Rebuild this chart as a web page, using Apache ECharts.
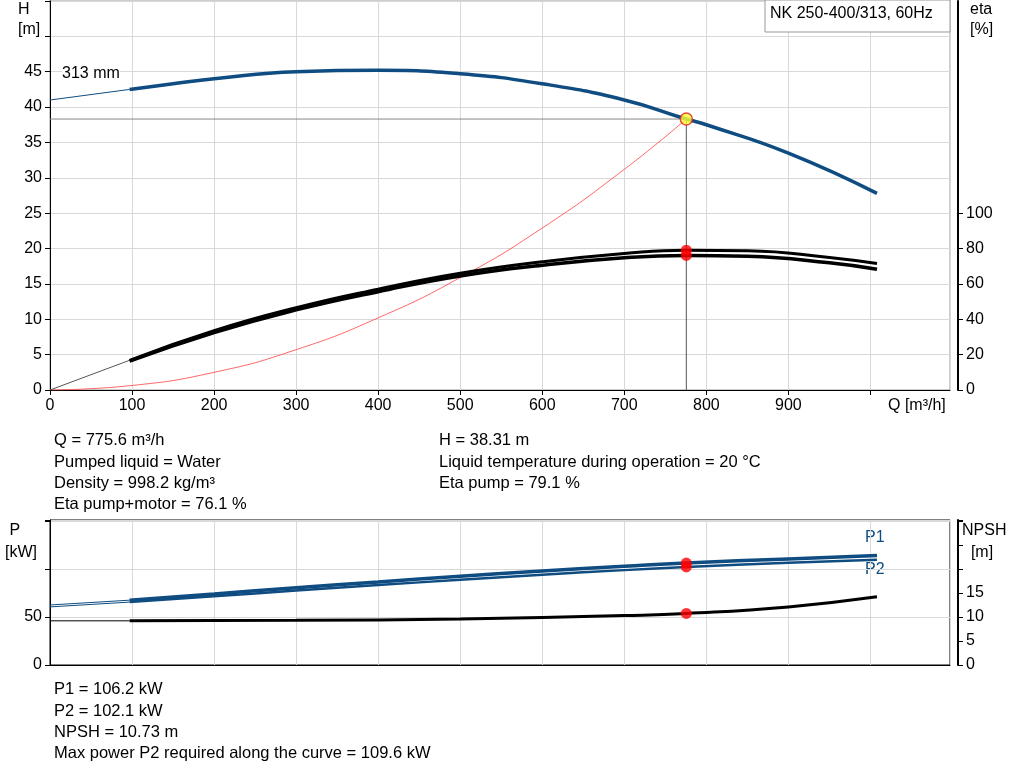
<!DOCTYPE html>
<html><head><meta charset="utf-8">
<script src="https://cdn.jsdelivr.net/npm/echarts@6/dist/echarts.min.js"></script>
<style>html,body{margin:0;padding:0;background:#fff}#c{width:1024px;height:781px}</style>
</head><body><div id="c"></div>
<script>
// Data
const qOp = 775.6, hOp = 38.31;
const hThin = [[0,41],[97,42.5]];
const hCurve = [[97,42.5],[150,43.3],[200,44],[300,45],[400,45.2],[500,44.7],[600,43.3],[700,41],[775.6,38.31],[800,37.5],[900,33.5],[1008,27.8]];
const etaThin = [[0,0],[97,16.8]];
const etaPump = [[97,16.8],[200,33.5],[300,46.5],[400,57],[500,66],[600,72.5],[700,77.2],[775.6,79.1],[850,78.8],[950,75],[1008,71.5]];
const etaTotal = [[97,16.3],[200,32.5],[300,45.3],[400,55.6],[500,64.5],[600,70.6],[700,74.8],[775.6,76.1],[850,75.6],[950,72],[1008,68.3]];
const sysCurve = [[0,0],[100,0.64],[200,2.5],[300,5.7],[400,10.2],[500,15.9],[600,22.9],[700,31.2],[775.6,38.31]];
const p1Thin = [[0,62.5],[97,67.5]];
const p1 = [[97,67.5],[200,74],[300,80.5],[400,86.5],[500,92.5],[600,98],[700,102.8],[775.6,106.2],[900,110.5],[1008,114]];
const p2Thin = [[0,60.5],[97,65.5]];
const p2 = [[97,65.5],[200,71.5],[300,77.5],[400,83.2],[500,88.8],[600,94],[700,98.8],[775.6,102.1],[900,106.6],[1008,109.6]];
const npshThin = [[0,9.2],[97,9.2]];
const npsh = [[97,9.2],[300,9.3],[500,9.6],[700,10.3],[775.6,10.73],[900,12.1],[1008,14.2]];
const pOp = [106.2, 102.1], npshOp = 10.73, etaOp = [79.1, 76.1];
const etaTicks = [0,20,40,60,80,100];

const F = 'Arial, "Liberation Sans", sans-serif';
const FS = 16;
const gridLine = {show:true, lineStyle:{color:'#d9d9d9'}};
function line(data, x, y, color, w, extra){return Object.assign({type:'line',data,xAxisIndex:x,yAxisIndex:y,symbol:'none',smooth:true,lineStyle:{color,width:w},silent:true,z:3},extra||{});}
const blue='#0f4c81';
const chart = echarts.init(document.getElementById('c'));
chart.setOption({
  animation:false,
  textStyle:{fontFamily:F},
  grid:[{left:50,right:74,top:1,bottom:391},{left:50,right:74,top:520,bottom:116}],
  xAxis:[
    {gridIndex:0,type:'value',min:0,max:1097,interval:100,axisLine:{onZero:false,lineStyle:{color:'#000'}},axisTick:{show:true,length:5,lineStyle:{color:'#000'}},axisLabel:{color:'#000',fontSize:FS,showMaxLabel:false,formatter:v=>v>=1000?'':v},splitLine:gridLine},
    {gridIndex:1,type:'value',min:0,max:1097,interval:100,axisLine:{onZero:false,lineStyle:{color:'#000'}},axisTick:{show:false},axisLabel:{show:false},splitLine:gridLine}
  ],
  yAxis:[
    {gridIndex:0,type:'value',min:0,max:55,interval:5,axisLine:{show:true,lineStyle:{color:'#000'}},axisTick:{show:true,length:5,lineStyle:{color:'#000'}},axisLabel:{color:'#000',fontSize:FS,formatter:v=>v>45?'':v},splitLine:gridLine},
    {gridIndex:0,type:'value',min:0,max:220,interval:20,position:'right',offset:8,axisLine:{show:true,lineStyle:{width:2,color:'#000'}},axisTick:{show:true,length:5,lineStyle:{color:'#000'},customValues:etaTicks},axisLabel:{color:'#000',fontSize:FS,customValues:etaTicks},splitLine:{show:false}},
    {gridIndex:1,type:'value',min:0,max:151,interval:50,axisLine:{show:true,lineStyle:{color:'#000'}},axisTick:{show:true,length:5,lineStyle:{color:'#000'}},axisLabel:{color:'#000',fontSize:FS,formatter:v=>v>50?'':v},splitLine:gridLine},
    {gridIndex:1,type:'value',min:0,max:30.2,interval:5,position:'right',offset:8,axisLine:{show:true,lineStyle:{width:2,color:'#000'}},axisTick:{show:true,length:5,lineStyle:{color:'#000'}},axisLabel:{color:'#000',fontSize:FS,formatter:v=>v>15?'':v},splitLine:{show:false}}
  ],
  series:[
    line([[0,hOp],[qOp,hOp]],0,0,'#888',1,{smooth:false}),
    line([[qOp,0],[qOp,hOp]],0,0,'#555',1,{smooth:false}),
    line(sysCurve,0,0,'#ff4040',0.8),
    line(hThin,0,0,blue,1,{smooth:false}),
    line(hCurve,0,0,blue,3.5),
    line(etaThin,0,1,'#555',1,{smooth:false}),
    line(etaPump,0,1,'#000',3),
    line(etaTotal,0,1,'#000',3.5),
    {type:'scatter',xAxisIndex:0,yAxisIndex:1,data:[[qOp,etaOp[0]],[qOp,etaOp[1]]],symbolSize:11,itemStyle:{color:'#f00'},z:5,silent:true},
    {type:'scatter',xAxisIndex:0,yAxisIndex:0,data:[[qOp,hOp]],symbolSize:12,itemStyle:{color:'#ffff33',borderColor:'#e02020',borderWidth:1.5},z:6,silent:true},
    line(p1Thin,1,2,blue,1,{smooth:false}),
    line(p2Thin,1,2,blue,1,{smooth:false}),
    line(p1,1,2,blue,3.5),
    line(p2,1,2,blue,2.5),
    line(npshThin,1,3,'#000',1,{smooth:false}),
    line(npsh,1,3,'#000',3),
    {type:'scatter',xAxisIndex:1,yAxisIndex:2,data:[[qOp,pOp[0]],[qOp,pOp[1]]],symbolSize:11,itemStyle:{color:'#f00'},z:5,silent:true},
    {type:'scatter',xAxisIndex:1,yAxisIndex:3,data:[[qOp,npshOp]],symbolSize:11,itemStyle:{color:'#f00'},z:5,silent:true}
  ],
  graphic:[
    {type:'rect',shape:{x:50,y:0,width:900,height:390},style:{fill:'none',stroke:'#999',lineWidth:1},silent:true,z:0},
    {type:'rect',shape:{x:50,y:520,width:900,height:145},style:{fill:'none',stroke:'#000',lineWidth:1},silent:true,z:0},
    {type:'rect',shape:{x:765,y:0,width:185,height:32},style:{fill:'#fff',stroke:'#999',lineWidth:1},z:10},
    {type:'text',left:770,top:6,style:{text:'NK 250-400/313, 60Hz',font:FS+'px '+F,fill:'#000'},z:11},
    {type:'text',left:62,top:66,z:10,style:{text:'313 mm',font:FS+'px '+F,fill:'#000',backgroundColor:'#fff'}},
    {type:'text',left:18,top:0,style:{text:'H\n[m]',font:FS+'px '+F,fill:'#000',lineHeight:20}},
    {type:'text',left:970,top:0,style:{text:'eta\n[%]',font:FS+'px '+F,fill:'#000',lineHeight:20}},
    {type:'text',left:888,top:398,style:{text:'Q [m³/h]',font:FS+'px '+F,fill:'#000'}},
    {type:'text',left:5,top:520,style:{text:' P\n[kW]',font:FS+'px '+F,fill:'#000',lineHeight:22}},
    {type:'text',left:962,top:520,style:{text:'NPSH\n  [m]',font:FS+'px '+F,fill:'#000',lineHeight:22}},
    {type:'text',left:865,top:530,style:{text:'P1',font:FS+'px '+F,fill:blue}},
    {type:'text',left:865,top:562,style:{text:'P2',font:FS+'px '+F,fill:blue}},
    {type:'text',left:54,top:430,style:{text:'Q = 775.6 m³/h\nPumped liquid = Water\nDensity = 998.2 kg/m³\nEta pump+motor = 76.1 %',font:'16.5px '+F,fill:'#000',lineHeight:21.4}},
    {type:'text',left:439,top:430,style:{text:'H = 38.31 m\nLiquid temperature during operation = 20 °C\nEta pump = 79.1 %',font:'16.5px '+F,fill:'#000',lineHeight:21.4}},
    {type:'text',left:54,top:679,style:{text:'P1 = 106.2 kW\nP2 = 102.1 kW\nNPSH = 10.73 m\nMax power P2 required along the curve = 109.6 kW',font:'16.5px '+F,fill:'#000',lineHeight:21.4}}
  ]
});
</script></body></html>
